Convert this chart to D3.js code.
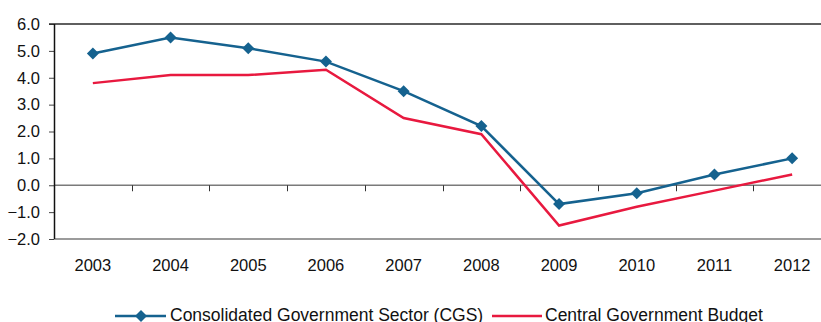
<!DOCTYPE html>
<html>
<head>
<meta charset="utf-8">
<script src="https://cdn.jsdelivr.net/npm/d3@7"></script>
<style>
  html, body { margin: 0; padding: 0; background: #fff; }
  svg { display: block; font-family: "Liberation Sans", Arial, sans-serif; }
</style>
</head>
<body>
<div id="chart"></div>
<script>
// data
const years = ["2003", "2004", "2005", "2006", "2007", "2008", "2009", "2010", "2011", "2012"]
const cgs = [4.9, 5.5, 5.1, 4.6, 3.5, 2.2, -0.7, -0.3, 0.4, 1.0]
const cgb = [3.8, 4.1, 4.1, 4.3, 2.5, 1.9, -1.5, -0.8, -0.2, 0.4]
const yTicks = [-2, -1, 0, 1, 2, 3, 4, 5, 6]
const seriesNames = ["Consolidated Government Sector (CGS)", "Central Government Budget"]

const width = 821
const height = 322
const blue = "#15628f"
const red = "#e8193f"

const svg = d3.select("#chart").append("svg")
    .attr("width", width)
    .attr("height", height)

// plot runs off the right edge, like the original crop
const x = d3.scaleBand().domain(years).range([54, 831])
const y = d3.scaleLinear().domain([-2, 6]).range([239, 24])

// y axis
const yAxis = svg.append("g")
    .attr("transform", "translate(54,0)")
    .call(d3.axisLeft(y).tickValues(yTicks).tickSize(5).tickPadding(9).tickFormat(d3.format(".1f")))
yAxis.select(".domain").remove()
yAxis.selectAll(".tick line").attr("stroke", "#444")
yAxis.selectAll(".tick text")
    .attr("fill", "#111")
    .style("font-size", "16.5px")
    .style("font-family", "Liberation Sans, Arial, sans-serif")

// horizontal rules
svg.append("line")
    .attr("x1", 49).attr("x2", width)
    .attr("y1", y(6)).attr("y2", y(6))
    .attr("stroke", "#2a2a2a").attr("stroke-width", 1.5)
svg.append("line")
    .attr("x1", 54).attr("x2", width)
    .attr("y1", y(-2)).attr("y2", y(-2))
    .attr("stroke", "#7a7a7a").attr("stroke-width", 1.5)
svg.append("line")
    .attr("x1", 54).attr("x2", width)
    .attr("y1", y(0)).attr("y2", y(0))
    .attr("stroke", "#7a7a7a").attr("stroke-width", 1.5)

// ticks between categories on the zero line
svg.append("g")
    .selectAll("line")
    .data(years.slice(1))
    .join("line")
    .attr("x1", d => Math.round(x(d)) + 0.5)
    .attr("x2", d => Math.round(x(d)) + 0.5)
    .attr("y1", y(0))
    .attr("y2", y(0) + 6)
    .attr("stroke", "#333")

// vertical axis line
svg.append("line")
    .attr("x1", 54.5).attr("x2", 54.5)
    .attr("y1", y(6)).attr("y2", y(-2))
    .attr("stroke", "#111").attr("stroke-width", 1.5)

// category labels
svg.append("g")
    .selectAll("text")
    .data(years)
    .join("text")
    .attr("x", d => x(d) + x.bandwidth() / 2)
    .attr("y", 265)
    .attr("dy", "0.35em")
    .attr("text-anchor", "middle")
    .attr("fill", "#111")
    .style("font-size", "16.5px")
    .text(d => d)

const cx = d => x(d) + x.bandwidth() / 2

const line = d3.line()
    .x((d, i) => cx(years[i]))
    .y(d => y(d))

svg.append("path")
    .datum(cgb)
    .attr("d", line)
    .attr("fill", "none")
    .attr("stroke", red)
    .attr("stroke-width", 2.5)

svg.append("path")
    .datum(cgs)
    .attr("d", line)
    .attr("fill", "none")
    .attr("stroke", blue)
    .attr("stroke-width", 2.5)

const diamond = d3.symbol().type(d3.symbolSquare).size(72)

svg.append("g")
    .selectAll("path")
    .data(cgs)
    .join("path")
    .attr("d", diamond)
    .attr("transform", (d, i) => `translate(${cx(years[i])},${y(d)}) rotate(45)`)
    .attr("fill", blue)

// legend, cut by the bottom edge as in the source
const legend = svg.append("g").attr("transform", "translate(0,316)")
legend.append("line")
    .attr("x1", 115).attr("x2", 166)
    .attr("stroke", blue).attr("stroke-width", 2.5)
legend.append("path")
    .attr("d", diamond)
    .attr("transform", "translate(141,0) rotate(45)")
    .attr("fill", blue)
legend.append("text")
    .attr("x", 170).attr("y", 5)
    .attr("fill", "#111")
    .style("font-size", "17.5px")
    .text(seriesNames[0])
legend.append("line")
    .attr("x1", 492).attr("x2", 542)
    .attr("stroke", red).attr("stroke-width", 2.5)
legend.append("text")
    .attr("x", 545).attr("y", 5)
    .attr("fill", "#111")
    .style("font-size", "17.5px")
    .text(seriesNames[1])
</script>
</body>
</html>
